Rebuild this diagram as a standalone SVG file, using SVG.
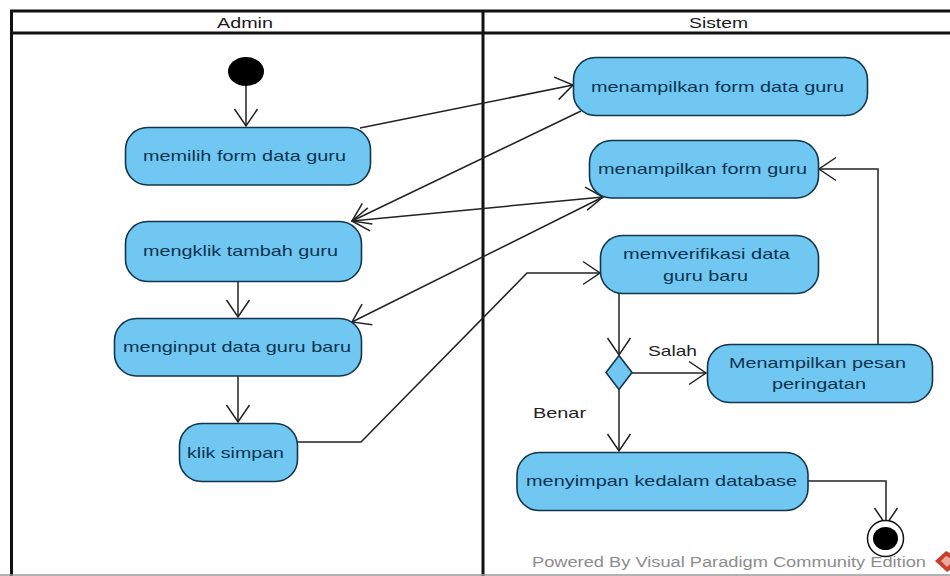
<svg xmlns="http://www.w3.org/2000/svg" width="950" height="576" viewBox="0 0 950 576">
<style>
text{font-family:"Liberation Sans",Arial,sans-serif;font-size:15px;fill:#0c3350}
.lane{fill:#1a1a1a;font-size:15px}
.lab{fill:#222;font-size:15px}
.act{fill:#70c8f2;stroke:#12354c;stroke-width:1.6}
.frame{fill:none;stroke:#111;stroke-width:3}
.c{fill:none;stroke:#222;stroke-width:1.5}
</style>
<defs>
<marker id="a" viewBox="-18 -12 19 24" refX="0" refY="0" markerWidth="19" markerHeight="24" markerUnits="userSpaceOnUse" orient="auto-start-reverse" overflow="visible"><path d="M-17,-11.500 L0,0 L-17,11.500" fill="none" stroke="#222" stroke-width="1.500"/></marker>
</defs>
<rect width="950" height="576" fill="#fff"/>
<g id="swimlanes">
<path class="frame" d="M960,11 H11.500 V576 M11,33 H960 M483,11 V576"/>
<path d="M0,575 H950" stroke="#999" stroke-width="1.500"/>
<text class="lane" x="217" y="28" textLength="56" lengthAdjust="spacingAndGlyphs">Admin</text>
<text class="lane" x="689" y="28" textLength="59" lengthAdjust="spacingAndGlyphs">Sistem</text>
</g>
<g id="connectors">
<path class="c" marker-end="url(#a)" d="M246,86 V126"/>
<path class="c" marker-end="url(#a)" d="M360,128 L573,85"/>
<path class="c" marker-end="url(#a)" d="M581,111 L352,221"/>
<path class="c" marker-start="url(#a)" marker-end="url(#a)" d="M352,221 L603,197"/>
<path class="c" marker-end="url(#a)" d="M605,196 L352,322"/>
<path class="c" marker-end="url(#a)" d="M238,281 V317"/>
<path class="c" marker-end="url(#a)" d="M238,376 V422"/>
<path class="c" marker-end="url(#a)" d="M297,442 H361 L527,273 H600"/>
<path class="c" marker-end="url(#a)" d="M619,293 V355"/>
<path class="c" marker-end="url(#a)" d="M632,373 H706"/>
<path class="c" marker-end="url(#a)" d="M619,389 V451"/>
<path class="c" marker-end="url(#a)" d="M878,344 V169 H819"/>
<path class="c" marker-end="url(#a)" d="M808,481 H886 V525"/>
</g>
<g id="start"><ellipse cx="246" cy="71.500" rx="18" ry="14.500" fill="#000"/></g>
<g id="memilih"><rect class="act" x="125.500" y="127.500" width="245" height="57.500" rx="22"/><text x="143" y="161" textLength="203" lengthAdjust="spacingAndGlyphs">memilih form data guru</text></g>
<g id="mengklik"><rect class="act" x="125.500" y="221.500" width="236" height="60" rx="22"/><text x="143" y="256" textLength="195" lengthAdjust="spacingAndGlyphs">mengklik tambah guru</text></g>
<g id="menginput"><rect class="act" x="114.500" y="318.500" width="247" height="57.500" rx="22"/><text x="123" y="352" textLength="228" lengthAdjust="spacingAndGlyphs">menginput data guru baru</text></g>
<g id="klik"><rect class="act" x="179.500" y="423.500" width="118" height="58" rx="22"/><text x="187" y="458" textLength="97" lengthAdjust="spacingAndGlyphs">klik simpan</text></g>
<g id="formdata"><rect class="act" x="573.500" y="57.500" width="294" height="58" rx="22"/><text x="591" y="92" textLength="253" lengthAdjust="spacingAndGlyphs">menampilkan form data guru</text></g>
<g id="formguru"><rect class="act" x="589.500" y="140.500" width="229" height="57.500" rx="22"/><text x="598" y="174" textLength="209" lengthAdjust="spacingAndGlyphs">menampilkan form guru</text></g>
<g id="verifikasi"><rect class="act" x="600.500" y="235.500" width="218" height="58" rx="22"/><text x="623" y="259" textLength="167" lengthAdjust="spacingAndGlyphs">memverifikasi data</text><text x="663" y="281" textLength="85" lengthAdjust="spacingAndGlyphs">guru baru</text></g>
<g id="keputusan"><path class="act" d="M619,355.500 L632,372.500 L619,389.500 L606,372.500 Z"/></g>
<g id="pesan"><rect class="act" x="707.500" y="344.500" width="225" height="58" rx="22"/><text x="729" y="368" textLength="177" lengthAdjust="spacingAndGlyphs">Menampilkan pesan</text><text x="772" y="389" textLength="94" lengthAdjust="spacingAndGlyphs">peringatan</text></g>
<g id="menyimpan"><rect class="act" x="517" y="452.500" width="291" height="58" rx="22"/><text x="526" y="486" textLength="271" lengthAdjust="spacingAndGlyphs">menyimpan kedalam database</text></g>
<g id="end"><circle cx="885.500" cy="538.500" r="18" fill="#fff" stroke="#111" stroke-width="1.500"/><ellipse cx="885.500" cy="538.500" rx="12.500" ry="11.500" fill="#000"/></g>
<g id="labels">
<text class="lab" x="648" y="356" textLength="49" lengthAdjust="spacingAndGlyphs">Salah</text>
<text class="lab" x="533" y="418" textLength="53" lengthAdjust="spacingAndGlyphs">Benar</text>
<text x="532" y="567" textLength="394" lengthAdjust="spacingAndGlyphs" style="fill:#8c8c8c;font-size:14px">Powered By  Visual Paradigm Community Edition</text>
</g>
<g id="watermark-icon"><path d="M935,561 L946,551 L950,553 V570 L947,572 Z" fill="#c8402f"/><path d="M941,561 L946,556 L950,558 V564 L947,567 Z" fill="#ecaaa0"/></g>
</svg>
